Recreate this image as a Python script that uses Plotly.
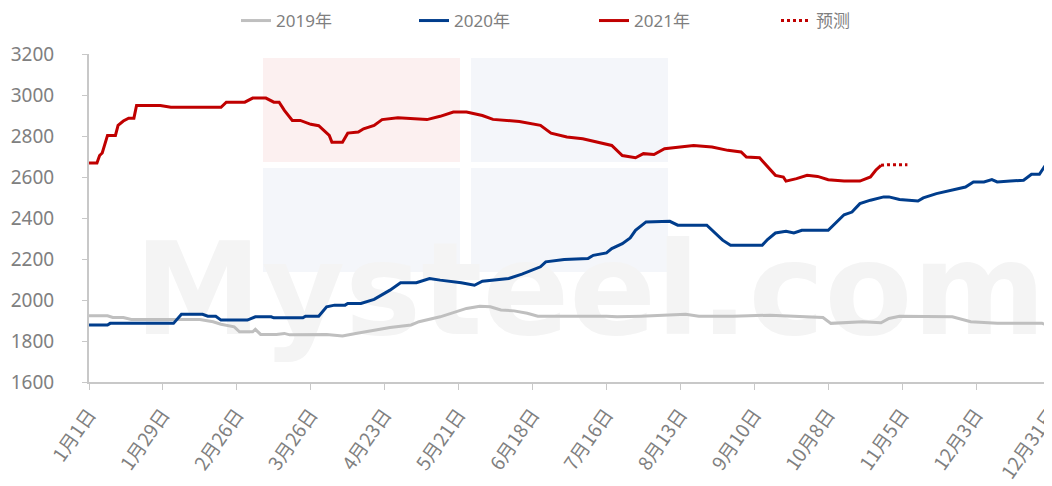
import plotly.graph_objects as go

# day index from 1月1日 (0) to 12月31日 (364)
tick_days = [0, 28, 56, 84, 112, 140, 168, 196, 224, 252, 280, 308, 336, 364]
tick_text = ["1月1日", "1月29日", "2月26日", "3月26日", "4月23日", "5月21日", "6月18日",
             "7月16日", "8月13日", "9月10日", "10月8日", "11月5日", "12月3日", "12月31日"]

# 2019
d2019 = [0, 7, 9, 13, 16, 42, 47, 50, 55, 57, 62, 63, 65, 71, 74, 76, 90, 96, 101, 108, 114,
         122, 125, 133, 138, 143, 148, 152, 156, 161, 166, 170, 196, 200, 209, 226, 231, 244,
         258, 269, 278, 281, 293, 300, 303, 307, 327, 334, 344, 361, 364]
v2019 = [1923, 1923, 1915, 1915, 1905, 1905, 1894, 1882, 1869, 1845, 1845, 1857, 1832, 1832,
         1837, 1830, 1832, 1824, 1837, 1853, 1866, 1878, 1894, 1918, 1938, 1959, 1970, 1967,
         1951, 1947, 1935, 1921, 1921, 1918, 1921, 1930, 1921, 1921, 1926, 1918, 1915, 1886,
         1894, 1889, 1910, 1921, 1918, 1894, 1886, 1886, 1873]

# 2020
d2020 = [0, 7, 8, 32, 35, 43, 45, 48, 50, 60, 63, 69, 70, 81, 82, 87, 90, 93, 97, 98, 103,
         108, 114, 118, 124, 129, 133, 141, 146, 149, 159, 164, 171, 173, 180, 189, 191, 196,
         198, 202, 205, 207, 211, 218, 220, 223, 234, 240, 243, 255, 257, 260, 264, 267, 270,
         280, 283, 286, 289, 292, 296, 301, 303, 307, 314, 316, 321, 327, 332, 335, 339, 342,
         344, 349, 354, 357, 360, 362, 364]
v2020 = [1878, 1878, 1886, 1886, 1930, 1930, 1921, 1921, 1902, 1902, 1918, 1918, 1913, 1913,
         1921, 1921, 1967, 1975, 1975, 1983, 1983, 2003, 2048, 2084, 2084, 2105, 2097, 2084,
         2072, 2092, 2105, 2126, 2162, 2186, 2197, 2202, 2218, 2230, 2251, 2275, 2303, 2340,
         2381, 2386, 2384, 2365, 2365, 2292, 2267, 2267, 2295, 2327, 2335, 2327, 2340, 2340,
         2376, 2416, 2429, 2470, 2487, 2503, 2503, 2490, 2483, 2498, 2519, 2538, 2551, 2576,
         2576, 2587, 2576, 2581, 2584, 2613, 2613, 2652, 2668]

# 2021
d2021 = [0, 3, 4, 5, 7, 10, 11, 13, 15, 17, 18, 27, 31, 50, 52, 59, 62, 67, 70, 72, 74, 77,
         80, 82, 84, 87, 91, 92, 96, 98, 102, 104, 108, 111, 117, 128, 133, 138, 143, 149, 153,
         163, 171, 175, 181, 187, 196, 198, 202, 207, 210, 214, 218, 229, 236, 242, 247, 249,
         254, 260, 263, 264, 268, 272, 276, 280, 286, 292, 296, 298, 300]
v2021 = [2668, 2668, 2705, 2717, 2803, 2803, 2852, 2873, 2887, 2887, 2949, 2949, 2940, 2940,
         2965, 2965, 2985, 2985, 2965, 2965, 2925, 2876, 2876, 2865, 2857, 2850, 2803, 2770,
         2770, 2814, 2819, 2835, 2852, 2880, 2889, 2880, 2896, 2917, 2917, 2900, 2881, 2871,
         2852, 2814, 2795, 2787, 2762, 2754, 2705, 2694, 2714, 2710, 2738, 2754, 2746, 2730,
         2722, 2697, 2694, 2608, 2600, 2580, 2592, 2608, 2603, 2587, 2580, 2580, 2600, 2633,
         2657]

# 预测
d_fc = [300, 303, 310]
v_fc = [2657, 2660, 2660]


# screen pixel -> paper coords (plot area is x 89..1050, y 54..382 on screen)
def px_x(x):
    return (x - 89) / 961


def px_y(y):
    return (382 - y) / 328


fig = go.Figure()

# faint watermark, drawn under the lines
wm_boxes = [(263, 460, 58, 162, "#fcf0f0"), (471, 668, 58, 162, "#f4f6fa"),
            (263, 460, 168, 272, "#f4f6fa"), (471, 668, 168, 272, "#f4f6fa")]
for x0, x1, y0, y1, c in wm_boxes:
    fig.add_shape(type="rect", xref="paper", yref="paper",
                  x0=px_x(x0), x1=px_x(x1), y0=px_y(y1), y1=px_y(y0),
                  fillcolor=c, line=dict(width=0), layer="below")
fig.add_trace(go.Scatter(x=[px_x(590) * 364], y=[1600 + px_y(302) * 1600], mode="text",
                         text=["<b>Mysteel.com</b>"], textposition="middle center",
                         textfont=dict(size=128, color="#f4f4f4", family="DejaVu Sans"),
                         showlegend=False, hoverinfo="skip"))

fig.add_trace(go.Scatter(x=d2019, y=v2019, mode="lines", name="2019年", legend="legend",
                         line=dict(color="#bfbfbf", width=3)))
fig.add_trace(go.Scatter(x=d2020, y=v2020, mode="lines", name="2020年", legend="legend2",
                         line=dict(color="#003d8c", width=3)))
fig.add_trace(go.Scatter(x=d2021, y=v2021, mode="lines", name="2021年", legend="legend3",
                         line=dict(color="#c00000", width=3)))
fig.add_trace(go.Scatter(x=d_fc, y=v_fc, mode="lines", name="预测", legend="legend4",
                         line=dict(color="#c00000", width=3, dash="dot")))

leg_font = dict(size=17, color="#7f7f7f", family="Noto Sans, Noto Sans CJK SC")


def leg(x):
    return dict(orientation="h", x=px_x(x), xanchor="left", y=px_y(21), yanchor="middle",
                font=leg_font, bgcolor="rgba(0,0,0,0)")


# page body has an 8px margin, so figure margins are offset by 8
fig.update_layout(
    width=1052, height=486,
    margin=dict(l=81, r=10, t=46, b=112, autoexpand=False),
    plot_bgcolor="white", paper_bgcolor="white",
    font=dict(family="Noto Sans, Noto Sans CJK SC", color="#7f7f7f", size=17),
    legend=leg(236), legend2=leg(414), legend3=leg(594), legend4=leg(776),
    showlegend=True,
)
fig.update_xaxes(range=[-0.01, 364.01], tickvals=tick_days, ticktext=tick_text, tickangle=-55,
                 showgrid=False, zeroline=False, showline=True, linecolor="#c8c8c8",
                 linewidth=2, ticks="outside", tickcolor="#c8c8c8", ticklen=6,
                 tickfont=dict(size=19, color="#808080", family="Noto Sans CJK SC"),
                 ticklabelstandoff=6, ticklabeloverflow="allow", automargin=False)
fig.update_yaxes(range=[1600, 3200], dtick=200, showgrid=False, zeroline=False,
                 showline=True, linecolor="#c8c8c8", linewidth=2, ticks="outside",
                 tickcolor="#c8c8c8", ticklen=5, tickfont=dict(size=19, color="#808080"),
                 ticklabelstandoff=24, automargin=False)

fig.write_html("out.html")
